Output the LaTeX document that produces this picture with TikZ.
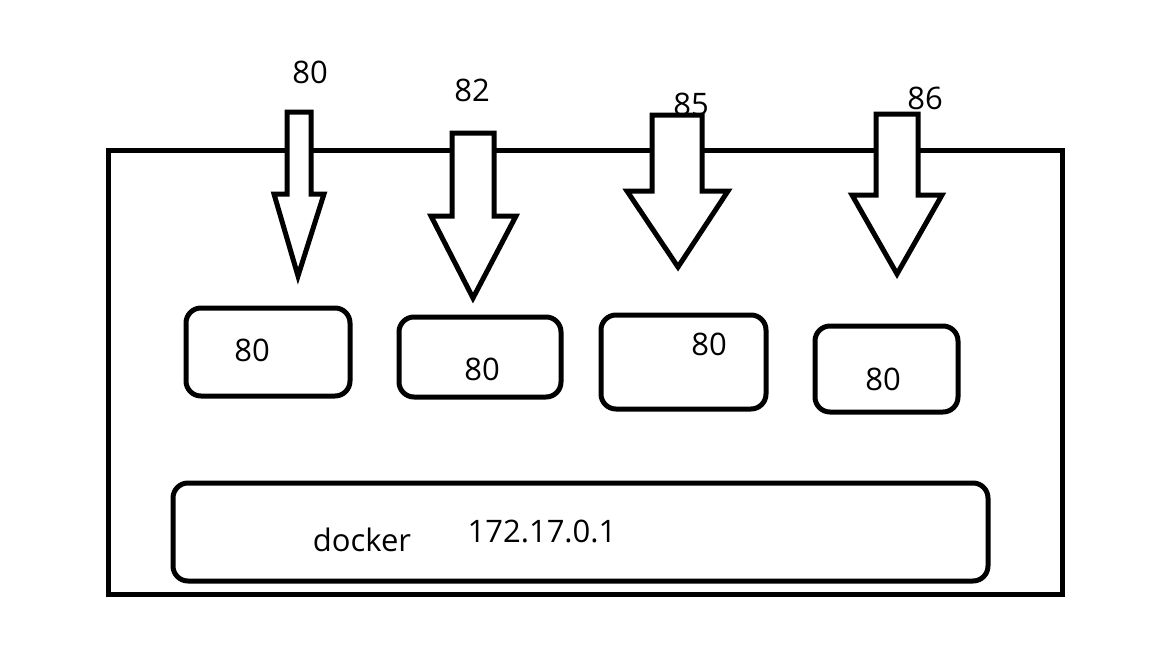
\documentclass[tikz,border=0pt]{standalone}
\usepackage{fontspec}
\setmainfont{Open Sans}
\begin{document}
\begin{tikzpicture}[x=1pt,y=-1pt,
  outline/.style={draw=black,line width=5pt,line join=miter},
  cbox/.style={draw=black,line width=5pt,rounded corners=15pt},
  lbl/.style={font=\fontsize{31}{35}\selectfont,inner sep=0pt}]
\useasboundingbox (0,0) rectangle (1152,648);
% host
\draw[outline] (108,150) rectangle (1062,594);
% block arrows: shaft left, shaft right, top, shaft bottom, head left, head right, tip x, tip y
\newcommand{\blockarrow}[8]{%
  \draw[outline,fill=white] (#1,#3) -- (#2,#3) -- (#2,#4) -- (#6,#4) -- (#7,#8) -- (#5,#4) -- (#1,#4) -- cycle;}
\blockarrow{287}{311}{112}{194}{274}{324}{298}{276}
\blockarrow{452}{494}{133}{216}{431}{516}{473}{298}
\blockarrow{652}{702}{115}{191}{627}{728}{678}{267}
\blockarrow{876}{918}{114}{195}{852}{942}{897}{274}
% port labels
\node[lbl] (p1) at (310,72) {80};
\node[lbl] (p2) at (472,90) {82};
\node[lbl] (p3) at (691,104) {85};
\node[lbl] (p4) at (925,98) {86};
% containers
\draw[cbox] (186,308) rectangle (350,396);
\draw[cbox] (399,317) rectangle (561,397);
\draw[cbox] (601,315) rectangle (766,409);
\draw[cbox] (815,326) rectangle (958,412);
\node[lbl] (c1) at (252,350) {80};
\node[lbl] (c2) at (482,369) {80};
\node[lbl] (c3) at (709,344) {80};
\node[lbl] (c4) at (883,379) {80};
% docker bridge
\draw[cbox] (173,483) rectangle (988,581);
\node[lbl,anchor=base] (d) at (362,551) {docker};
\node[lbl,anchor=base] (ip) at (542,542) {172.17.0.1};
\end{tikzpicture}
\end{document}
